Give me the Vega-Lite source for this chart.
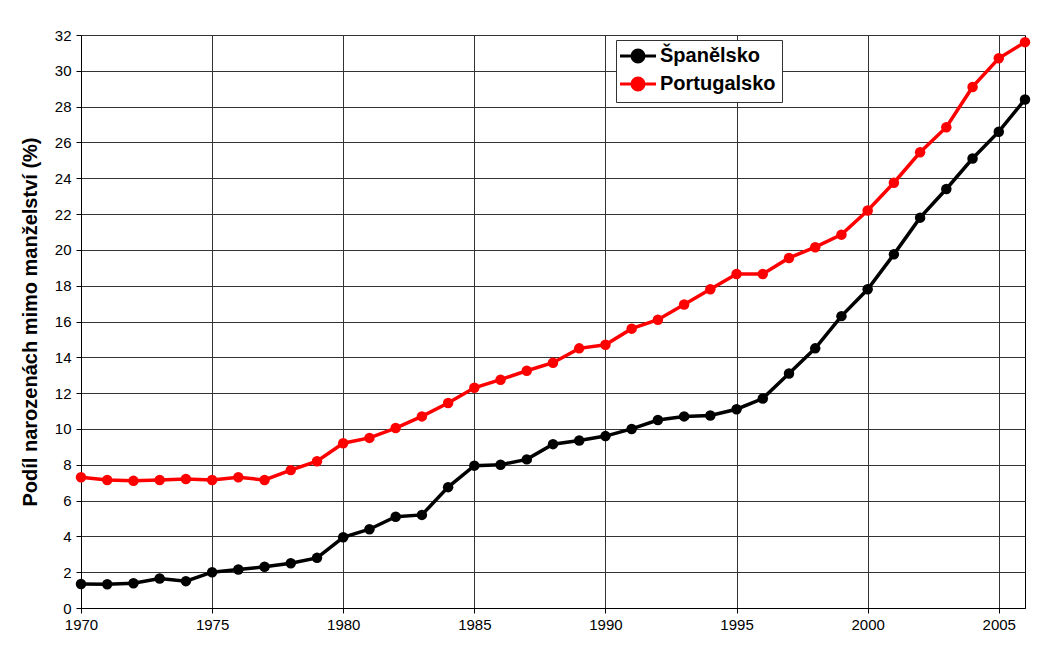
{
  "$schema": "https://vega.github.io/schema/vega-lite/v6.json",
  "width": 944,
  "height": 573,
  "autosize": {"type": "none"},
  "padding": {"left": 81, "top": 35, "right": 24, "bottom": 48},
  "background": "white",
  "config": {
    "font": "Liberation Sans",
    "view": {"stroke": "black", "strokeWidth": 1},
    "axis": {
      "labelFont": "Liberation Sans",
      "labelFontSize": 15,
      "labelColor": "black",
      "tickColor": "black",
      "tickSize": 5,
      "domainColor": "black",
      "gridColor": "#333333",
      "gridWidth": 1,
      "gridOpacity": 1
    }
  },
  "data": {
    "values": [
      {"year": 1970, "country": "Španělsko", "value": 1.34},
      {"year": 1971, "country": "Španělsko", "value": 1.33},
      {"year": 1972, "country": "Španělsko", "value": 1.38},
      {"year": 1973, "country": "Španělsko", "value": 1.65},
      {"year": 1974, "country": "Španělsko", "value": 1.5},
      {"year": 1975, "country": "Španělsko", "value": 2.0},
      {"year": 1976, "country": "Španělsko", "value": 2.15},
      {"year": 1977, "country": "Španělsko", "value": 2.3},
      {"year": 1978, "country": "Španělsko", "value": 2.5},
      {"year": 1979, "country": "Španělsko", "value": 2.8},
      {"year": 1980, "country": "Španělsko", "value": 3.95},
      {"year": 1981, "country": "Španělsko", "value": 4.4},
      {"year": 1982, "country": "Španělsko", "value": 5.1},
      {"year": 1983, "country": "Španělsko", "value": 5.2},
      {"year": 1984, "country": "Španělsko", "value": 6.75},
      {"year": 1985, "country": "Španělsko", "value": 7.95},
      {"year": 1986, "country": "Španělsko", "value": 8.0},
      {"year": 1987, "country": "Španělsko", "value": 8.3},
      {"year": 1988, "country": "Španělsko", "value": 9.15},
      {"year": 1989, "country": "Španělsko", "value": 9.35},
      {"year": 1990, "country": "Španělsko", "value": 9.6},
      {"year": 1991, "country": "Španělsko", "value": 10.0},
      {"year": 1992, "country": "Španělsko", "value": 10.5},
      {"year": 1993, "country": "Španělsko", "value": 10.7},
      {"year": 1994, "country": "Španělsko", "value": 10.75},
      {"year": 1995, "country": "Španělsko", "value": 11.1},
      {"year": 1996, "country": "Španělsko", "value": 11.7},
      {"year": 1997, "country": "Španělsko", "value": 13.1},
      {"year": 1998, "country": "Španělsko", "value": 14.5},
      {"year": 1999, "country": "Španělsko", "value": 16.3},
      {"year": 2000, "country": "Španělsko", "value": 17.8},
      {"year": 2001, "country": "Španělsko", "value": 19.75},
      {"year": 2002, "country": "Španělsko", "value": 21.8},
      {"year": 2003, "country": "Španělsko", "value": 23.4},
      {"year": 2004, "country": "Španělsko", "value": 25.1},
      {"year": 2005, "country": "Španělsko", "value": 26.6},
      {"year": 2006, "country": "Španělsko", "value": 28.4},
      {"year": 1970, "country": "Portugalsko", "value": 7.3},
      {"year": 1971, "country": "Portugalsko", "value": 7.15},
      {"year": 1972, "country": "Portugalsko", "value": 7.1},
      {"year": 1973, "country": "Portugalsko", "value": 7.15},
      {"year": 1974, "country": "Portugalsko", "value": 7.2},
      {"year": 1975, "country": "Portugalsko", "value": 7.15},
      {"year": 1976, "country": "Portugalsko", "value": 7.3},
      {"year": 1977, "country": "Portugalsko", "value": 7.15},
      {"year": 1978, "country": "Portugalsko", "value": 7.7},
      {"year": 1979, "country": "Portugalsko", "value": 8.2},
      {"year": 1980, "country": "Portugalsko", "value": 9.2},
      {"year": 1981, "country": "Portugalsko", "value": 9.5},
      {"year": 1982, "country": "Portugalsko", "value": 10.05},
      {"year": 1983, "country": "Portugalsko", "value": 10.7},
      {"year": 1984, "country": "Portugalsko", "value": 11.45},
      {"year": 1985, "country": "Portugalsko", "value": 12.3},
      {"year": 1986, "country": "Portugalsko", "value": 12.75},
      {"year": 1987, "country": "Portugalsko", "value": 13.25},
      {"year": 1988, "country": "Portugalsko", "value": 13.7},
      {"year": 1989, "country": "Portugalsko", "value": 14.5},
      {"year": 1990, "country": "Portugalsko", "value": 14.7},
      {"year": 1991, "country": "Portugalsko", "value": 15.6},
      {"year": 1992, "country": "Portugalsko", "value": 16.1},
      {"year": 1993, "country": "Portugalsko", "value": 16.95},
      {"year": 1994, "country": "Portugalsko", "value": 17.8},
      {"year": 1995, "country": "Portugalsko", "value": 18.65},
      {"year": 1996, "country": "Portugalsko", "value": 18.65},
      {"year": 1997, "country": "Portugalsko", "value": 19.55},
      {"year": 1998, "country": "Portugalsko", "value": 20.15},
      {"year": 1999, "country": "Portugalsko", "value": 20.85},
      {"year": 2000, "country": "Portugalsko", "value": 22.2},
      {"year": 2001, "country": "Portugalsko", "value": 23.75},
      {"year": 2002, "country": "Portugalsko", "value": 25.45},
      {"year": 2003, "country": "Portugalsko", "value": 26.85},
      {"year": 2004, "country": "Portugalsko", "value": 29.1},
      {"year": 2005, "country": "Portugalsko", "value": 30.7},
      {"year": 2006, "country": "Portugalsko", "value": 31.6}
    ]
  },
  "encoding": {
    "x": {
      "field": "year",
      "type": "quantitative",
      "scale": {"domain": [1970, 2006], "nice": false, "zero": false},
      "axis": {
        "title": null,
        "values": [1970, 1975, 1980, 1985, 1990, 1995, 2000, 2005],
        "format": "d",
        "labelPadding": 4,
        "labelFlush": false
      }
    },
    "y": {
      "field": "value",
      "type": "quantitative",
      "scale": {"domain": [0, 32], "nice": false},
      "axis": {
        "title": "Podíl narozenách mimo manželství (%)",
        "titleFont": "Liberation Sans",
        "titleFontSize": 20,
        "titleFontWeight": "bold",
        "titleColor": "black",
        "titlePadding": 14,
        "values": [0, 2, 4, 6, 8, 10, 12, 14, 16, 18, 20, 22, 24, 26, 28, 30, 32],
        "labelPadding": 5
      }
    },
    "color": {
      "field": "country",
      "type": "nominal",
      "scale": {"domain": ["Španělsko", "Portugalsko"], "range": ["#000000", "#ff0000"]},
      "legend": {
        "title": null,
        "orient": "none",
        "legendX": 535,
        "legendY": 5,
        "fillColor": "white",
        "strokeColor": "#333333",
        "padding": 6,
        "labelFont": "Liberation Sans",
        "labelFontSize": 20,
        "labelFontWeight": "bold",
        "labelColor": "black",
        "symbolOffset": 6,
        "labelOffset": 12,
        "rowPadding": 4,
        "symbolType": "M-3,0L3,0M1,0A1,1,0,1,1,-1,0A1,1,0,1,1,1,0",
        "symbolSize": 144,
        "symbolStrokeWidth": 3,
        "encode": {
          "symbols": {
            "update": {
              "fill": {"scale": "color", "field": "value"},
              "stroke": {"scale": "color", "field": "value"},
              "opacity": {"value": 1}
            }
          }
        }
      }
    }
  },
  "layer": [
    {"mark": {"type": "line", "strokeWidth": 3.5}},
    {"mark": {"type": "point", "filled": true, "size": 110, "opacity": 1}}
  ]
}
